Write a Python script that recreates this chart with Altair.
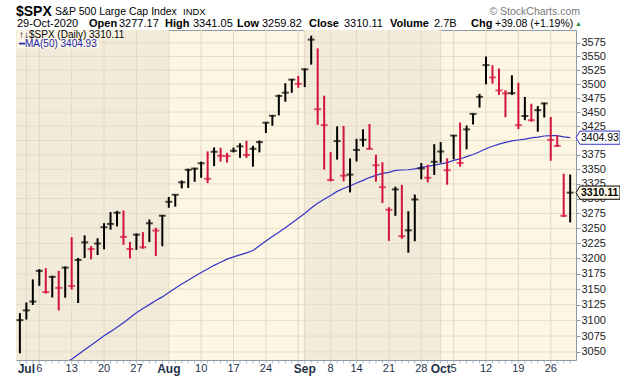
import altair as alt
import pandas as pd

FONT = "Liberation Sans"

dates = ["Jun30","Jul1","Jul2","Jul6","Jul7","Jul8","Jul9","Jul10","Jul13","Jul14","Jul15","Jul16","Jul17",
         "Jul20","Jul21","Jul22","Jul23","Jul24","Jul27","Jul28","Jul29","Jul30","Jul31",
         "Aug3","Aug4","Aug5","Aug6","Aug7","Aug10","Aug11","Aug12","Aug13","Aug14","Aug17","Aug18","Aug19",
         "Aug20","Aug21","Aug24","Aug25","Aug26","Aug27","Aug28","Aug31",
         "Sep1","Sep2","Sep3","Sep4","Sep8","Sep9","Sep10","Sep11","Sep14","Sep15","Sep16","Sep17","Sep18",
         "Sep21","Sep22","Sep23","Sep24","Sep25","Sep28","Sep29","Sep30",
         "Oct1","Oct2","Oct5","Oct6","Oct7","Oct8","Oct9","Oct12","Oct13","Oct14","Oct15","Oct16",
         "Oct19","Oct20","Oct21","Oct22","Oct23","Oct26","Oct27","Oct28","Oct29"]

opens = [3050.20,3105.92,3143.64,3155.29,3166.44,3153.07,3176.17,3152.47,3205.08,3141.11,3225.98,3208.36,3224.21,
         3224.29,3268.52,3254.86,3271.64,3218.58,3219.84,3234.27,3227.22,3231.76,3270.45,
         3288.26,3289.92,3317.37,3323.17,3340.05,3356.04,3370.34,3355.46,3372.95,3368.66,3380.86,3387.04,3392.51,
         3360.48,3386.01,3418.09,3435.95,3449.97,3485.14,3494.69,3509.73,
         3507.44,3543.76,3564.74,3453.60,3371.88,3369.82,3412.56,3352.70,3363.56,3407.73,3411.23,3346.86,3357.38,
         3285.57,3295.75,3320.11,3226.14,3236.66,3333.90,3350.92,3341.21,
         3385.87,3338.94,3367.27,3408.74,3384.56,3434.28,3459.67,3500.02,3534.01,3515.47,3453.72,3493.50,
         3493.66,3439.38,3439.91,3438.50,3464.90,3441.42,3403.15,3342.48,3277.17]
highs = [3111.51,3128.44,3165.81,3182.59,3184.15,3171.80,3179.78,3186.82,3235.32,3200.95,3238.28,3220.39,3233.52,
         3258.61,3277.29,3279.32,3279.99,3227.26,3241.43,3243.72,3264.74,3250.92,3272.17,
         3302.73,3306.84,3330.77,3351.03,3352.54,3363.29,3381.01,3387.89,3387.24,3378.51,3387.59,3395.06,3399.54,
         3390.80,3399.96,3432.09,3444.21,3481.07,3501.38,3509.23,3514.77,
         3528.03,3588.11,3564.85,3479.15,3379.97,3424.77,3425.55,3368.95,3402.93,3419.48,3428.92,3375.17,3362.27,
         3285.57,3320.31,3323.35,3278.70,3306.88,3360.74,3357.92,3393.56,
         3397.18,3369.10,3409.57,3431.56,3426.26,3447.28,3482.34,3549.85,3534.01,3527.94,3489.08,3515.76,
         3502.42,3476.93,3464.86,3460.53,3466.46,3441.42,3409.51,3342.48,3341.05]
lows = [3047.83,3101.17,3124.52,3155.29,3142.93,3136.53,3115.70,3136.22,3149.43,3127.66,3200.76,3198.59,3205.65,
        3215.16,3247.77,3253.10,3222.66,3200.05,3214.25,3216.17,3227.22,3204.13,3220.26,
        3284.53,3286.37,3317.37,3318.14,3328.72,3335.44,3326.44,3355.46,3363.35,3361.64,3379.22,3370.15,3369.66,
        3354.69,3379.31,3413.13,3425.84,3444.15,3468.35,3484.32,3493.25,
        3494.60,3535.23,3427.41,3349.63,3329.27,3366.84,3329.25,3310.47,3363.56,3389.25,3384.45,3328.82,3292.40,
        3229.10,3270.95,3232.57,3209.45,3228.44,3332.91,3327.54,3340.47,
        3361.39,3323.69,3367.27,3354.54,3384.56,3428.15,3458.07,3499.61,3500.86,3480.55,3440.89,3480.45,
        3419.93,3435.65,3433.06,3415.34,3440.45,3364.86,3388.71,3268.89,3259.82]
closes = [3100.29,3115.86,3130.01,3179.72,3145.32,3169.94,3152.05,3185.04,3155.22,3197.52,3226.56,3215.57,3224.73,
          3251.84,3257.30,3276.02,3235.66,3215.63,3239.41,3218.44,3258.44,3246.22,3271.12,
          3294.61,3306.51,3327.77,3349.16,3351.28,3360.47,3333.69,3380.35,3373.43,3372.85,3381.99,3389.78,3374.85,
          3385.51,3397.16,3431.28,3443.62,3478.73,3484.55,3508.01,3500.31,
          3526.65,3580.84,3455.06,3426.96,3331.84,3398.96,3339.19,3340.97,3383.54,3401.20,3385.49,3357.01,3319.47,
          3281.06,3315.57,3236.92,3246.59,3298.46,3351.60,3335.47,3363.00,
          3380.80,3348.42,3408.60,3360.97,3419.44,3446.83,3477.14,3534.22,3511.93,3488.67,3483.34,3483.81,
          3426.92,3443.12,3435.56,3453.49,3465.39,3400.97,3390.68,3271.03,3310.11]
ma50 = [2989.18,2996.76,3003.38,3011.02,3017.19,3023.02,3028.79,3033.70,3038.56,3045.89,3053.57,3060.51,3068.04,
        3075.45,3082.00,3088.92,3096.23,3104.14,3111.88,3118.97,3125.07,3131.53,3137.52,
        3144.44,3151.46,3158.18,3164.45,3170.88,3177.20,3182.76,3188.75,3193.76,3198.97,3202.73,3205.88,3209.23,
        3213.14,3221.04,3228.84,3236.38,3243.46,3250.88,3258.74,3266.79,
        3274.96,3283.95,3292.05,3298.91,3305.37,3312.28,3317.06,3321.56,3326.63,3331.06,3335.87,3339.61,3342.96,
        3344.88,3348.08,3348.87,3349.27,3350.93,3353.47,3355.14,3357.25,
        3359.35,3361.60,3365.46,3367.90,3371.92,3375.68,3380.30,3385.56,3389.91,3393.55,3396.66,3399.36,
        3400.87,3402.52,3404.56,3406.02,3407.86,3408.43,3408.60,3406.22,3404.93]
prev_close = 3053.24  # Jun 29 close, sets colour of first bar

grid_days = [1, 3, 8, 13, 18, 23, 28, 33, 38, 43, 44, 48, 52, 57, 62, 65, 67, 72, 77, 82]
label_days = [3, 8, 13, 18, 28, 33, 38, 48, 52, 57, 62, 67, 72, 77, 82]
label_text = ["6", "13", "20", "27", "10", "17", "24", "8", "14", "21", "28", "5", "12", "19", "26"]
month_days = [1, 23, 44, 65]
month_text = ["Jul", "Aug", "Sep", "Oct"]
shade_start = [-0.6, 43.85]
shade_end = [22.85, 64.85]
y_grid = list(range(3050, 3576, 25))
y_labels = [v for v in y_grid if v != 3400]  # 3400 is fully under the MA price tag

RED = "#D3123B"
BLUE = "#3434C8"
W, H = 560, 330

df = pd.DataFrame({"i": list(range(len(closes))), "date": dates, "o": opens, "h": highs,
                   "l": lows, "c": closes, "ma": ma50})
prevs = [prev_close] + closes[:-1]
df["dir"] = ["down" if c < p else "up" for c, p in zip(closes, prevs)]

xs = alt.Scale(domain=[-0.6, 85.9], nice=False, zero=False)
ys = alt.Scale(type="log", domain=[3037.4, 3598.6], nice=False, zero=False)
yax = alt.Axis(orient="right", values=y_labels, grid=False, tickSize=4, tickColor="#8E9BA6", domain=False,
               labelFont=FONT, labelFontSize=11, labelColor="#222222", labelPadding=1, title=None, format="d",
               zindex=0)
colscale = alt.Scale(domain=["up", "down"], range=["#000000", RED])


def Y(field):
    return alt.Y(field, scale=ys, axis=yax)


def X(field):
    return alt.X(field, scale=xs, axis=None)


base = alt.Chart(df)

shade = alt.Chart(pd.DataFrame({"s": shade_start, "e": shade_end})).mark_rect(color="#F3EBDA").encode(
    x=X("s:Q"), x2="e:Q", y=alt.value(0), y2=alt.value(H))

hgrid = alt.Chart(pd.DataFrame({"v": y_grid})).mark_rule(color="#E5DCC6", strokeWidth=1).encode(
    y=Y("v:Q"), x=alt.value(0), x2=alt.value(W))

vgrid = alt.Chart(pd.DataFrame({"d": grid_days})).mark_rule(color="#E2D9C3", strokeWidth=1).encode(
    x=X("d:Q"), y=alt.value(0), y2=alt.value(H))

ma_line = base.mark_line(color=BLUE, strokeWidth=1.2, clip=True).encode(x=X("i:Q"), y=Y("ma:Q"))

hl = base.mark_rule(strokeWidth=2).encode(
    x=X("i:Q"), y=Y("l:Q"), y2="h:Q", color=alt.Color("dir:N", scale=colscale, legend=None))

cl = base.mark_tick(orient="horizontal", size=7, thickness=2).encode(
    x=X("i:Q"), y=Y("c:Q"), color=alt.Color("dir:N", scale=colscale, legend=None))

day_ticks = base.mark_tick(orient="vertical", size=3, thickness=1, color="#8E9BA6").encode(
    x=X("i:Q"), y=alt.value(H + 2))

xlabels = alt.Chart(pd.DataFrame({"d": label_days, "t": label_text})).mark_text(
    font=FONT, fontSize=11, color="#1F3247", baseline="middle").encode(
    x=X("d:Q"), y=alt.value(H + 9), text="t:N")
mlabels = alt.Chart(pd.DataFrame({"d": month_days, "t": month_text})).mark_text(
    font=FONT, fontSize=12, fontWeight="bold", color="#1F3247", baseline="middle").encode(
    x=X("d:Q"), y=alt.value(H + 9), text="t:N")

one = alt.Data(values=[{"k": 1}])


def txt(s, px, py, size=11, weight="normal", color="#000000", align="left"):
    return alt.Chart(one).mark_text(text=s, font=FONT, fontSize=size, fontWeight=weight, color=color,
                                    align=align, baseline="alphabetic").encode(
        x=alt.value(px - 16), y=alt.value(py - 30))


def box(x1, y1, x2, y2, fill):
    return alt.Chart(one).mark_rect(fill=fill).encode(
        x=alt.value(x1 - 16), x2=alt.value(x2 - 16), y=alt.value(y1 - 30), y2=alt.value(y2 - 30))


header = [
    txt("$SPX", 16, 15.5, size=14, weight="bold"),
    txt("S&P 500 Large Cap Index", 55, 15, size=10.5),
    txt("INDX", 183, 15, size=9.5),
    txt("© StockCharts.com", 580, 14.5, size=10.5, color="#7A7A7A", align="right"),
    txt("29-Oct-2020", 17, 27),
    txt("Open", 89, 27, weight="bold"), txt("3277.17", 119, 27),
    txt("High", 165, 27, weight="bold"), txt("3341.05", 193, 27),
    txt("Low", 237, 27, weight="bold"), txt("3259.82", 262, 27),
    txt("Close", 309, 27, weight="bold"), txt("3310.11", 344, 27),
    txt("Volume", 390, 27, weight="bold"), txt("2.7B", 434, 27),
    txt("Chg", 471, 27, weight="bold"), txt("+39.08 (+1.19%)", 495, 27, size=10.5),
    txt("▲", 575, 26, size=7, color="#2E8B3C"),
]

legend = [
    box(17, 30.5, 123, 39.5, "#FBF6E6"),
    box(17, 39.5, 99, 48.5, "#FBF6E6"),
    txt("↑↓$SPX (Daily) 3310.11", 19, 37.8, size=10),
    txt("━MA(50) 3404.93", 19, 47.3, size=10, color="#2222AA"),
]

last = pd.DataFrame({"v": [ma50[-1], closes[-1]], "t": ["3404.93", "3310.11"]})
tag_shape = "M-1,0 L-0.82,-0.3 L1,-0.3 L1,0.3 L-0.82,0.3 Z"
ma_tag = alt.Chart(last.iloc[[0]]).mark_point(shape=tag_shape, size=44 * 44, filled=True, fill="#FFFFFF",
                                               stroke=BLUE, strokeWidth=1, opacity=1).encode(
    x=alt.value(W + 22), y=Y("v:Q"))
c_tag = alt.Chart(last.iloc[[1]]).mark_point(shape=tag_shape, size=44 * 44, filled=True, fill="#FFFBE8",
                                              stroke="#000000", strokeWidth=1, opacity=1).encode(
    x=alt.value(W + 22), y=Y("v:Q"))
ma_tag_t = alt.Chart(last.iloc[[0]]).mark_text(font=FONT, fontSize=10.5, color="#000000", align="left",
                                                baseline="middle").encode(
    x=alt.value(W + 5), y=Y("v:Q"), text="t:N")
c_tag_t = alt.Chart(last.iloc[[1]]).mark_text(font=FONT, fontSize=10.5, fontWeight="bold", color="#000000",
                                               align="left", baseline="middle").encode(
    x=alt.value(W + 5), y=Y("v:Q"), text="t:N")

chart = alt.layer(shade, vgrid, hgrid, ma_line, hl, cl, day_ticks, xlabels, mlabels,
                  *legend, ma_tag, c_tag, ma_tag_t, c_tag_t, *header).resolve_scale(
    color="independent").properties(
    width=W, height=H, autosize=alt.AutoSizeParams(type="none"),
    padding={"left": 16, "top": 30, "right": 44, "bottom": 16},
    background="#FFFFFF"
).configure_view(stroke="#8E9BA6", strokeWidth=1, fill="#FDF6E3")

chart.save("out.html", embed_options={"renderer": "svg", "actions": False})
